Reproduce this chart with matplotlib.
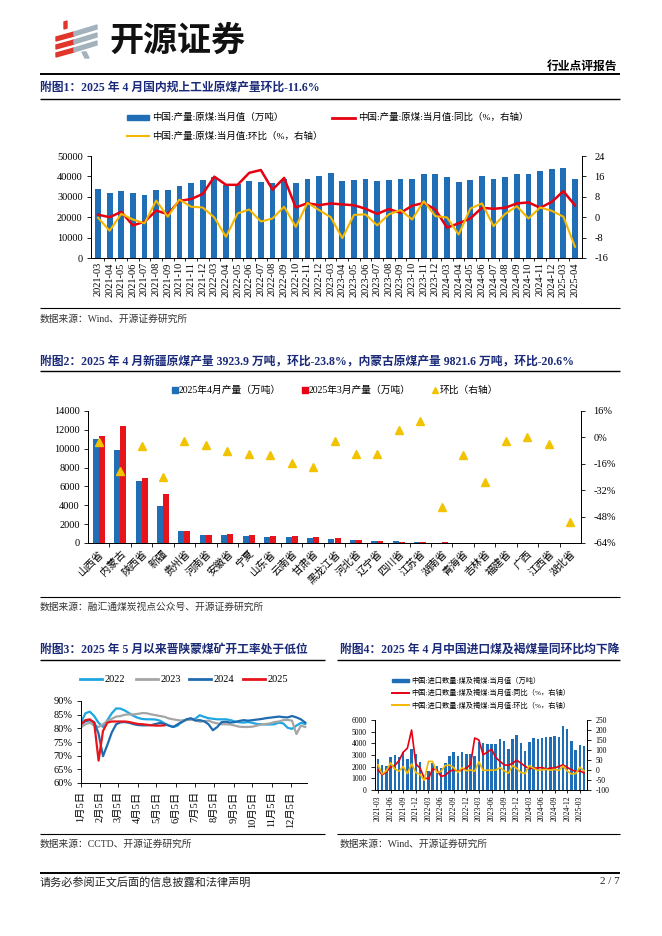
import numpy as np
import matplotlib
matplotlib.use('Agg')
import matplotlib.pyplot as plt
from matplotlib.patches import Rectangle, Polygon

plt.rcParams['font.family'] = ['Liberation Serif', 'Noto Sans CJK SC']
plt.rcParams['axes.unicode_minus'] = False

W, H = 662, 936
NAVY = '#1A2A78'
BLUE = '#1F6EB6'
RED = '#E60012'
YEL = '#F5B700'

# --- chart 1: monthly raw coal output ---
months1 = [f'{y}-{m:02d}' for y in (2021, 2022, 2023, 2024) for m in range(3, 13)] + ['2025-03', '2025-04']
prod1 = [34000, 32100, 32600, 32100, 31100, 33400, 33200, 35500, 37000, 38300,
         39700, 35800, 36200, 37800, 37100, 36800, 38800, 36800, 38900, 40100,
         41500, 37900, 38400, 38800, 37600, 38100, 38900, 38600, 41200, 41200,
         39700, 37100, 38300, 40400, 38900, 39600, 41400, 41000, 42500, 43600,
         44000, 38900]
yoy1 = [1.0, 0.0, 2.1, -3.2, -1.8, 2.6, 1.2, 6.4, 7.1, 9.1,
        15.9, 12.7, 12.7, 17.4, 18.5, 10.8, 15.4, 3.8, 5.5, 4.7,
        5.4, 5.0, 4.7, 3.3, 1.3, 3.2, 1.7, 4.5, 5.6, 3.0,
        -4.1, -2.4, -0.5, 3.7, 3.3, 3.7, 5.4, 5.8, 3.7, 6.0,
        10.2, 4.6]
mom1 = [-0.2, -5.3, 1.3, -0.9, -2.4, 6.5, 0.2, 6.9, 4.1, 3.8,
        -0.1, -7.7, 1.5, 3.0, -1.7, -0.5, 4.1, -3.8, 5.6, 2.8,
        0.0, -8.2, 0.9, 1.1, -3.2, 1.1, 2.8, -0.9, 6.3, 0.4,
        -0.1, -6.8, 3.4, 5.4, -3.5, 1.3, 4.3, -0.5, 3.8, 2.5,
        0.2, -11.6]

# --- chart 2: provinces ---
provinces = ['山西省', '内蒙古', '陕西省', '新疆', '贵州省', '河南省', '安徽省', '宁夏',
             '山东省', '云南省', '甘肃省', '黑龙江省', '河北省', '辽宁省', '四川省', '江苏省',
             '湖南省', '青海省', '吉林省', '福建省', '广西', '江西省', '湖北省']
apr25 = [11000, 9821.6, 6560, 3923.9, 1290, 840, 840, 770, 680, 620, 520, 470,
         290, 210, 160, 60, 40, 20, 15, 10, 3, 2, 1]
mar25 = [11340, 12370, 6910, 5150, 1320, 880, 915, 855, 760, 735, 635, 480,
         320, 233, 153, 55, 69, 22, 21, 10, 3, 2, 2]
mom2 = [-3.0, -20.6, -5.1, -23.8, -2.0, -4.4, -8.3, -9.9, -10.5, -15.6, -18.0, -2.4,
        -9.9, -9.9, 4.5, 10.1, -42.1, -10.7, -27.3, -2.0, 0.4, -3.8, -51.4]

# --- chart 3: weekly operating rate (%) ---
rate2022 = [82.1, 85.5, 86.1, 84.5, 82.0, 80.5, 83.0, 85.5, 87.3, 87.2,
            86.5, 85.5, 84.5, 83.8, 83.4, 83.3, 83.3, 83.2, 82.8, 81.8,
            81.0, 80.5, 81.0, 82.8, 83.2, 83.3, 83.5, 84.8, 84.2, 83.7,
            83.5, 83.3, 83.3, 83.3, 83.0, 82.5, 82.2, 82.1, 82.3, 82.0,
            81.6, 81.5, 81.4, 81.4, 81.5, 82.1, 81.8, 80.2, 79.8, 81.0,
            82.0, 81.6]
rate2023 = [80.3, 81.5, 82.1, 81.0, 80.5, 81.5, 82.7, 83.5, 84.3, 84.5,
            85.0, 85.1, 85.1, 85.3, 85.6, 85.5, 85.1, 84.8, 84.5, 84.2,
            83.6, 83.3, 83.0, 82.8, 83.0, 83.2, 83.1, 82.4, 82.6, 82.8,
            82.2, 81.8, 81.5, 81.5, 81.4, 81.0, 80.6, 80.5, 80.5, 80.6,
            81.0, 81.4, 81.6, 81.8, 82.3, 82.5, 83.0, 83.1, 82.8, 77.9,
            81.0, 80.5]
rate2024 = [81.5, 82.6, 83.0, 82.3, 78.0, 69.8, 74.0, 78.5, 81.5, 82.2,
            82.3, 82.0, 81.5, 81.2, 81.1, 81.1, 81.2, 81.6, 82.0, 81.6,
            81.0, 80.5, 81.5, 82.3, 83.3, 83.7, 82.8, 83.0, 82.6, 81.5,
            79.3, 80.5, 82.3, 82.4, 82.1, 82.3, 82.7, 83.0, 82.8, 83.0,
            83.2, 83.4, 83.7, 83.9, 84.1, 84.3, 84.1, 84.0, 84.5, 84.0,
            83.3, 82.1]
rate2025 = [81.5, 83.0, 83.3, 82.0, 68.2, 79.0, 82.1, 82.5, 82.5, 82.5,
            82.5, 82.3, 81.9, 81.6, 81.5, 81.3, 81.1, 81.0, 81.0, 81.1]
tick_days3 = [0, 31, 59, 90, 120, 151, 181, 212, 243, 273, 304, 334]
tick_labels3 = ['1月5日', '2月5日', '3月5日', '4月5日', '5月5日', '6月5日',
                '7月5日', '8月5日', '9月5日', '10月5日', '11月5日', '12月5日']

# --- chart 4: coal & lignite imports ---
months4 = [f'2021-{m:02d}' for m in range(3, 13)] + \
          [f'{y}-{m:02d}' for y in (2022, 2023, 2024) for m in range(1, 13)] + \
          ['2025-01', '2025-02', '2025-03', '2025-04']
imp4 = [2700, 2160, 2080, 2820, 2960, 2790, 3270, 2690, 3520, 3070,
        2400, 1150, 1640, 2350, 2060, 1910, 2350, 2930, 3290, 2900, 3220, 3100,
        3100, 2900, 4090, 4010, 3950, 3920, 3920, 4380, 4210, 3550, 4350, 4690,
        4070, 3380, 4130, 4490, 4380, 4440, 4580, 4520, 4660, 4580, 5490, 5200,
        4180, 3410, 3900, 3750]
yoy4 = [1, -24, -10, 15, 23, 46, 89, 109, 200, 30,
        10, -40, -44, 5, 1, -32, -27, -7, 1, -7, 1, 10,
        26, 160, 150, 76, 89, 104, 63, 43, 26, 23, 34, 49,
        34, 18, 6, 10, 10, 13, 5, 10, 10, 18, 26, 13,
        1, -7, -4, -15]
mom4 = [26, -20, -4, 36, 5, -6, 17, -18, 31, -13,
        -22, -52, 43, 43, -12, -7, 23, 25, 12, -12, 11, -4,
        0, -6, 41, -2, -1, -1, 0, 12, -4, -16, 22, 8,
        -13, -17, 22, 9, -2, 1, 3, -1, 3, -2, 20, -5,
        -20, -18, 14, -4]

fig = plt.figure(figsize=(W / 100, H / 100), dpi=100)
page = fig.add_axes([0, 0, 1, 1], zorder=0)
page.set_xlim(0, W)
page.set_ylim(H, 0)
page.axis('off')


def box(x0, y0, x1, y1):
    a = fig.add_axes([x0 / W, 1 - y1 / H, (x1 - x0) / W, (y1 - y0) / H], zorder=2)
    a.patch.set_alpha(0)
    return a


def hline(y, x0=40, x1=620, lw=0.8):
    page.plot([x0, x1], [y, y], color='black', lw=lw, solid_capstyle='butt')


def style(a, size=7.5):
    a.tick_params(labelsize=size, length=3, width=0.6, pad=3, direction='out')
    for s in a.spines.values():
        s.set_linewidth(0.7)
    a.spines['top'].set_visible(False)


# ---------- header / logo ----------
for yc in (34, 42, 50):
    page.add_patch(Polygon([(56, yc + 3), (74, yc - 2), (74, yc + 2), (56, yc + 7)],
                           closed=True, color='#E0352B'))
page.add_patch(Polygon([(64, 22), (67, 21), (67, 28), (64, 29)], closed=True, color='#E0352B'))
for yc in (29, 37, 45):
    page.add_patch(Polygon([(74, yc + 3), (97, yc - 4), (97, yc), (74, yc + 7)],
                           closed=True, color='#A3B2BD'))
page.add_patch(Polygon([(82, 52), (86, 52), (89, 58), (85, 58)], closed=True, color='#A3B2BD'))
page.text(109, 40, '开源证券', fontsize=24.5, fontweight='heavy', family='Noto Sans CJK SC',
          va='center', ha='left', color='#111111')
page.text(617, 67, '行业点评报告', fontsize=8.5, fontweight='bold', va='center', ha='right')
hline(74, lw=1.4)

# ---------- chart 1 ----------
page.text(40, 88, '附图1：2025 年 4 月国内规上工业原煤产量环比-11.6%', fontsize=8.5,
          fontweight='bold', color=NAVY, va='center')
hline(99, lw=1.0)
page.add_patch(Rectangle((127, 115), 22, 5, color=BLUE))
page.text(152, 117.5, '中国:产量:原煤:当月值（万吨）', fontsize=6.8, va='center')
page.plot([332, 355], [117.5, 117.5], color=RED, lw=2)
page.text(358, 117.5, '中国:产量:原煤:当月值:同比（%，右轴）', fontsize=6.8, va='center')
page.plot([127, 149], [136, 136], color=YEL, lw=1.5)
page.text(152, 136, '中国:产量:原煤:当月值:环比（%，右轴）', fontsize=6.8, va='center')

ax1 = box(91, 156, 582, 258)
x1 = np.arange(len(months1))
ax1.bar(x1, prod1, width=0.5, color=BLUE, zorder=2)
ax1.set_xlim(-0.6, len(months1) - 0.4)
ax1.set_ylim(0, 50000)
ax1.set_yticks(range(0, 50001, 10000))
ax1.set_xticks(x1)
ax1.set_xticklabels(months1, rotation=90, fontsize=7)
ax1.set_xticks(x1[:-1] + 0.5, minor=True)
style(ax1)
ax1.tick_params(axis='x', which='major', length=0, pad=3)
ax1.tick_params(axis='x', which='minor', length=2.5, width=0.6)
ax1r = ax1.twinx()
ax1r.plot(x1, yoy1, color=RED, lw=1.8, zorder=3)
ax1r.plot(x1, mom1, color=YEL, lw=1.5, zorder=3)
ax1r.set_ylim(-16, 24)
ax1r.set_yticks(range(-16, 25, 8))
style(ax1r)
ax1r.tick_params(pad=6)
hline(308)
page.text(40, 319, '数据来源：Wind、开源证券研究所', fontsize=7, va='center', color='#333333')

# ---------- chart 2 ----------
page.text(40, 362, '附图2：2025 年 4 月新疆原煤产量 3923.9 万吨，环比-23.8%，内蒙古原煤产量 9821.6 万吨，环比-20.6%',
          fontsize=8.5, fontweight='bold', color=NAVY, va='center')
hline(371, lw=1.0)
page.add_patch(Rectangle((172, 387), 5.5, 5.5, color=BLUE))
page.text(179, 390, '2025年4月产量（万吨）', fontsize=7, va='center')
page.add_patch(Rectangle((302, 387), 5.5, 5.5, color=RED))
page.text(309, 390, '2025年3月产量（万吨）', fontsize=7, va='center')
page.plot([435], [390], marker='^', color='#F2C300', ms=5, ls='none')
page.text(440, 390, '环比（右轴）', fontsize=7, va='center')

ax2 = box(88, 411, 581, 543)
x2 = np.arange(len(provinces))
ax2.bar(x2 - 0.14, apr25, width=0.28, color=BLUE, zorder=2)
ax2.bar(x2 + 0.14, mar25, width=0.28, color='#E8141B', zorder=2)
ax2.set_xlim(-0.5, len(provinces) - 0.5)
ax2.set_ylim(0, 14000)
ax2.set_yticks(range(0, 14001, 2000))
ax2.set_xticks(x2)
ax2.set_xticklabels(provinces, rotation=45, ha='right', rotation_mode='anchor', fontsize=6.8)
ax2.set_xticks(x2[:-1] + 0.5, minor=True)
style(ax2)
ax2.tick_params(axis='x', which='major', length=0, pad=4)
ax2.tick_params(axis='x', which='minor', length=3, width=0.6)
ax2r = ax2.twinx()
ax2r.plot(x2, mom2, marker='^', ls='none', color='#F2C300', ms=5.5, zorder=3)
ax2r.set_ylim(-64, 16)
ax2r.set_yticks(range(-64, 17, 16))
ax2r.set_yticklabels([f'{v}%' for v in range(-64, 17, 16)])
style(ax2r)
ax2r.tick_params(pad=6)
hline(597)
page.text(40, 607, '数据来源：融汇通煤炭视点公众号、开源证券研究所', fontsize=7, va='center', color='#333333')

# ---------- chart 3 ----------
page.text(40, 650, '附图3：2025 年 5 月以来晋陕蒙煤矿开工率处于低位', fontsize=8.5,
          fontweight='bold', color=NAVY, va='center')
hline(660, 40, 325, lw=1.0)
colors3 = ['#1EA7E1', '#A5A5A5', '#1F6BB0', '#E8141B']
names3 = ['2022', '2023', '2024', '2025']
series3 = [rate2022, rate2023, rate2024, rate2025]
leg_x = [80, 136, 189, 243]
for lx, c, n in zip(leg_x, colors3, names3):
    page.plot([lx, lx + 22], [679, 679], color=c, lw=2)
    page.text(lx + 25, 679, n, fontsize=7.5, va='center')

ax3 = box(81, 701, 307, 783)
for vals, c in zip(series3, colors3):
    ax3.plot(np.arange(len(vals)), vals, color=c, lw=1.6)
ax3.set_xlim(0, 51.4)
ax3.set_ylim(60, 90)
ax3.set_yticks(range(60, 91, 5))
ax3.set_yticklabels([f'{v}%' for v in range(60, 91, 5)])
ax3.set_xticks([d / 7 for d in tick_days3])
ax3.set_xticklabels(tick_labels3, rotation=90, fontsize=7)
style(ax3)
ax3.spines['right'].set_visible(False)
hline(834, 40, 325)
page.text(40, 844, '数据来源：CCTD、开源证券研究所', fontsize=7, va='center', color='#333333')

# ---------- chart 4 ----------
page.text(340, 650, '附图4：2025 年 4 月中国进口煤及褐煤量同环比均下降', fontsize=8.5,
          fontweight='bold', color=NAVY, va='center')
hline(660, 337, 620, lw=1.0)
page.add_patch(Rectangle((392, 678.5), 17, 3.5, color=BLUE))
page.text(411, 680, '中国:进口数量:煤及褐煤:当月值（万吨）', fontsize=5.2, va='center')
page.plot([392, 409], [692.5, 692.5], color=RED, lw=1.4)
page.text(411, 692.5, '中国:进口数量:煤及褐煤:当月值:同比（%，右轴）', fontsize=5.2, va='center')
page.plot([392, 409], [705, 705], color=YEL, lw=1.4)
page.text(411, 705, '中国:进口数量:煤及褐煤:当月值:环比（%，右轴）', fontsize=5.2, va='center')

ax4 = box(375, 720, 587, 790)
x4 = np.arange(len(months4))
ax4.bar(x4, imp4, width=0.6, color=BLUE, zorder=2)
ax4.set_xlim(-0.7, len(months4) - 0.3)
ax4.set_ylim(0, 6000)
ax4.set_yticks(range(0, 6001, 1000))
ax4.set_xticks(x4[::3])
ax4.set_xticklabels(months4[::3], rotation=90, fontsize=5)
style(ax4, 5.5)
ax4.tick_params(axis='x', length=2, pad=2)
ax4r = ax4.twinx()
ax4r.plot(x4, yoy4, color=RED, lw=1.2, zorder=3)
ax4r.plot(x4, mom4, color=YEL, lw=1.2, zorder=3)
ax4r.set_ylim(-100, 250)
ax4r.set_yticks(range(-100, 251, 50))
style(ax4r, 5.5)
hline(834, 337, 620)
page.text(340, 844, '数据来源：Wind、开源证券研究所', fontsize=7, va='center', color='#333333')

# ---------- footer ----------
hline(873, lw=1.4)
page.text(40, 882, '请务必参阅正文后面的信息披露和法律声明', fontsize=8, va='center', color='#222222')
page.text(620, 882, '2 / 7', fontsize=8, va='center', ha='right', color='#222222')

fig.savefig('out.png', dpi=100)
